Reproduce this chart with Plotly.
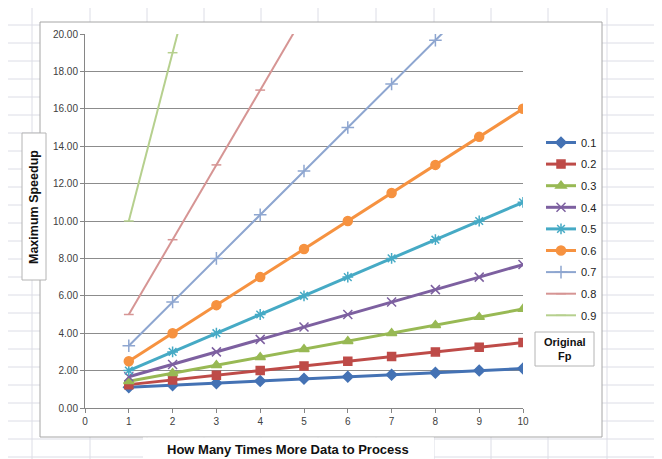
import plotly.graph_objects as go

# ---- data ----
data_multiple = [1, 2, 3, 4, 5, 6, 7, 8, 9, 10]
fp_labels = ["0.1", "0.2", "0.3", "0.4", "0.5", "0.6", "0.7", "0.8", "0.9"]
speedup_01 = [1.11, 1.22, 1.33, 1.44, 1.56, 1.67, 1.78, 1.89, 2.00, 2.11]
speedup_02 = [1.25, 1.50, 1.75, 2.00, 2.25, 2.50, 2.75, 3.00, 3.25, 3.50]
speedup_03 = [1.43, 1.86, 2.29, 2.71, 3.14, 3.57, 4.00, 4.43, 4.86, 5.29]
speedup_04 = [1.67, 2.33, 3.00, 3.67, 4.33, 5.00, 5.67, 6.33, 7.00, 7.67]
speedup_05 = [2.00, 3.00, 4.00, 5.00, 6.00, 7.00, 8.00, 9.00, 10.00, 11.00]
speedup_06 = [2.50, 4.00, 5.50, 7.00, 8.50, 10.00, 11.50, 13.00, 14.50, 16.00]
speedup_07 = [3.33, 5.67, 8.00, 10.33, 12.67, 15.00, 17.33, 19.67, 22.00, 24.33]
speedup_08 = [5.00, 9.00, 13.00, 17.00, 21.00, 25.00, 29.00, 33.00, 37.00, 41.00]
speedup_09 = [10.00, 19.00, 28.00, 37.00, 46.00, 55.00, 64.00, 73.00, 82.00, 91.00]
x_ticks = [0, 1, 2, 3, 4, 5, 6, 7, 8, 9, 10]
y_ticks = [0, 2, 4, 6, 8, 10, 12, 14, 16, 18, 20]

series = [speedup_01, speedup_02, speedup_03, speedup_04, speedup_05,
          speedup_06, speedup_07, speedup_08, speedup_09]

# ---- styles ----
colors = ["#4472b4", "#be4b48", "#98b954", "#7d60a0", "#46aac5",
          "#f69240", "#8ea6d0", "#d69594", "#b6d08e"]
symbols = ["diamond", "square", "triangle-up", "x-thin-open", "asterisk-open",
           "circle", "cross-thin-open", "line-ew-open", "line-ew-open"]
msizes = [8, 8, 9, 9, 9, 9, 9, 7, 7]
lwidths = [3, 3, 3, 3, 3, 3, 2, 2, 2]

# page body has an 8px margin; work in page pixels and convert
OFF = 8
W, H = 662 - OFF, 459 - OFF
L, T = 85 - OFF, 34 - OFF
PW, PH = 438, 374
R, B = W - L - PW, H - T - PH


def px(x):
    return (x - OFF - L) / PW


def py(y):
    return 1 - (y - OFF - T) / PH


fig = go.Figure()
for lab, vals, c, s, ms, lw in zip(fp_labels, series, colors, symbols, msizes, lwidths):
    fig.add_trace(go.Scatter(
        x=data_multiple, y=vals, name=lab, legendgroup=lab, mode="lines+markers",
        line=dict(color=c, width=lw),
        marker=dict(symbol=s, size=ms, color=c, line=dict(color=c, width=1.5)),
    ))

shapes = []
grid_col = "#dcdde6"
for gx in [7, 32, 90, 147, 204, 261, 318, 376, 434, 491, 548, 607]:
    shapes.append(dict(type="line", xref="paper", yref="paper",
                       x0=px(gx), x1=px(gx), y0=py(0), y1=py(470),
                       line=dict(color=grid_col, width=1), layer="below"))
for gy in range(7, 470, 18):
    shapes.append(dict(type="line", xref="paper", yref="paper",
                       x0=px(0), x1=px(670), y0=py(gy), y1=py(gy),
                       line=dict(color=grid_col, width=1), layer="below"))
# chart frame
shapes.append(dict(type="rect", xref="paper", yref="paper",
                   x0=px(40), x1=px(602), y0=py(437), y1=py(22),
                   fillcolor="white", line=dict(color="#a6a6a6", width=1), layer="below"))
# x title background
shapes.append(dict(type="rect", xref="paper", yref="paper",
                   x0=px(143), x1=px(434), y0=py(470), y1=py(437.5),
                   fillcolor="white", line=dict(width=0), layer="below"))
# y title box
shapes.append(dict(type="rect", xref="paper", yref="paper",
                   x0=px(22), x1=px(46), y0=py(280), y1=py(133),
                   fillcolor="white", line=dict(color="#b4b4b4", width=1), layer="below"))
# Original Fp box
shapes.append(dict(type="rect", xref="paper", yref="paper",
                   x0=px(535), x1=px(594), y0=py(366), y1=py(332),
                   fillcolor="white", line=dict(color="#b4b4b4", width=1), layer="below"))

annotations = [
    dict(text="<b>Maximum Speedup</b>", textangle=-90, xref="paper", yref="paper",
         x=px(34), y=py(207), xanchor="center", yanchor="middle", showarrow=False,
         font=dict(size=12.5, color="#111111", family="Liberation Sans")),
    dict(text="<b>How Many Times More Data to Process</b>", xref="paper", yref="paper",
         x=px(288), y=py(449), xanchor="center", yanchor="middle", showarrow=False,
         font=dict(size=13, color="#111111", family="Liberation Sans")),
    dict(text="<b>Original<br>Fp</b>", xref="paper", yref="paper",
         x=px(565), y=py(349), xanchor="center", yanchor="middle", showarrow=False,
         font=dict(size=11, color="#111111", family="Liberation Sans")),
]

fig.update_layout(
    width=W, height=H,
    margin=dict(l=L, r=R, t=T, b=B, pad=0),
    paper_bgcolor="white", plot_bgcolor="rgba(0,0,0,0)",
    font=dict(family="Liberation Sans", size=10, color="#404040"),
    showlegend=True,
    legend=dict(x=px(541), y=py(128), xanchor="left", yanchor="top",
                bgcolor="rgba(0,0,0,0)", font=dict(size=11, color="#222222"),
                tracegroupgap=2.6, itemwidth=30),
    shapes=shapes, annotations=annotations,
    xaxis=dict(range=[0, 10], tickvals=x_ticks, showgrid=False, zeroline=False,
               showline=True, linecolor="#868686", linewidth=1,
               ticks="outside", ticklen=4, tickcolor="#868686",
               tickfont=dict(size=10, color="#404040")),
    yaxis=dict(range=[0, 20], tickvals=y_ticks, tickformat=".2f",
               showgrid=True, gridcolor="#8c8c8c", gridwidth=1, zeroline=False,
               showline=True, linecolor="#868686", linewidth=1,
               ticks="outside", ticklen=4, tickcolor="#868686",
               tickfont=dict(size=10, color="#404040")),
)

fig.write_html("out.html")
